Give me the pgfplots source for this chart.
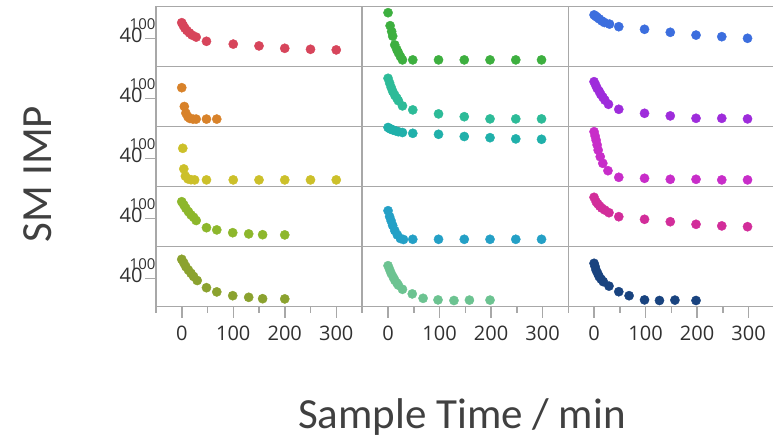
\documentclass[border=0pt]{standalone}
\usepackage{pgfplots}
\pgfplotsset{compat=1.18}
\usepackage{fontspec}
\setmainfont{Open Sans}
\newfontfamily\labfont{Carlito}
\definecolor{axgray}{HTML}{A8A8A8}
\definecolor{txt}{HTML}{303030}
\definecolor{lab}{HTML}{404040}
\definecolor{cA}{HTML}{D7455B}
\definecolor{cB}{HTML}{D8822A}
\definecolor{cC}{HTML}{CCC02A}
\definecolor{cD}{HTML}{8DB72C}
\definecolor{cE}{HTML}{8BA22F}
\definecolor{cF}{HTML}{3DAF3F}
\definecolor{cG}{HTML}{2DBB98}
\definecolor{cH}{HTML}{20B0AA}
\definecolor{cI}{HTML}{24A0C6}
\definecolor{cJ}{HTML}{6CC391}
\definecolor{cK}{HTML}{3C6EDE}
\definecolor{cL}{HTML}{9E2CDB}
\definecolor{cM}{HTML}{C82DC9}
\definecolor{cN}{HTML}{D22D9A}
\definecolor{cO}{HTML}{19437F}
\pgfplotsset{
  panel/.style={scale only axis, width=206pt, height=60pt, anchor=south west,
    xmin=-50, xmax=350, ymin=-100, ymax=200,
    axis line style={draw=axgray, line width=1.5pt},
    xtick=\empty, ytick=\empty, clip=true,
    tick align=outside, major tick length=11pt, minor tick length=6pt,
    every tick/.style={draw=axgray, line width=1.5pt},
    /pgf/number format/assume math mode=true,
    tick label style={font=\fontsize{20}{20}\selectfont, text=txt},
  },
  ylab/.style={ytick={40}, ytick pos=left, yticklabels={40},
    yticklabel style={yshift=3pt, xshift=1pt},
    extra y ticks={100}, extra y tick labels={100},
    extra y tick style={major tick length=0pt,
      yticklabel style={xshift=2pt, yshift=-1pt, font=\fontsize{15}{15}\selectfont}}},
  xlab/.style={xtick={0,100,200,300}, minor xtick={-50,50,150,250,350}, xtick pos=bottom,
    xticklabel style={yshift=-5pt}},
}
\newcommand{\panel}[5]{%
\begin{axis}[panel, at={(#1pt,#2pt)}, #4]
\addplot[only marks, mark=*, mark size=4.6pt, color=#3] coordinates {#5};
\end{axis}}
\begin{document}
\begin{tikzpicture}
\path[use as bounding box] (0pt,0pt) rectangle (773pt,442pt);
% column 1
\panel{156}{375.5}{cA}{ylab}{(0,119)(3,105)(6,92)(10,80)(15,68)(20,57)(28,47)(48,26)(100,12)(150,3)(200,-9)(250,-14)(300,-17)}
\panel{156}{315.5}{cB}{ylab}{(0,94)(5,0)(8,-33)(12,-52)(16,-60)(22,-63)(28,-63)(48,-63)(68,-63)}
\panel{156}{255.5}{cC}{ylab}{(2,91)(4,-12)(7,-48)(12,-62)(18,-66)(25,-67)(48,-67)(100,-67)(150,-67)(200,-67)(250,-67)(300,-67)}
\panel{156}{195.5}{cD}{ylab}{(0,124)(4,108)(8,91)(13,74)(18,58)(23,46)(28,30)(48,-6)(68,-17)(99,-31)(130,-37)(157,-41)(200,-42)}
\panel{156}{135.5}{cE}{ylab,xlab}{(0,136)(4,118)(8,99)(13,82)(18,66)(23,50)(30,30)(48,-6)(68,-27)(99,-46)(130,-54)(157,-61)(200,-62)}
% column 2
\panel{362.3}{375.5}{cF}{}{(0,169)(4,104)(7,75)(9,52)(13,8)(17,-15)(20,-31)(24,-50)(28,-67)(48,-67)(98,-67)(148,-67)(198,-67)(248,-67)(298,-67)}
\panel{362.3}{315.5}{cG}{}{(0,141)(3,118)(6,96)(9,76)(13,57)(17,42)(20,29)(28,3)(48,-17)(98,-37)(148,-51)(198,-62)(248,-62)(298,-62)}
\panel{362.3}{255.5}{cH}{}{(0,195)(3,190)(6,186)(10,182)(15,178)(20,174)(28,170)(48,166)(98,161)(148,150)(198,144)(248,138)(298,136)}
\panel{362.3}{195.5}{cI}{}{(0,79)(3,50)(6,28)(9,5)(13,-20)(18,-42)(24,-60)(30,-65)(48,-64)(98,-64)(148,-64)(198,-64)(248,-64)(298,-64)}
\panel{362.3}{135.5}{cJ}{xlab}{(0,104)(3,85)(6,66)(10,47)(13,32)(17,18)(20,7)(28,-14)(47,-37)(68,-59)(97,-67)(128,-70)(158,-68)(198,-68)}
% column 3
\panel{568.3}{375.5}{cK}{}{(0,158)(3,152)(6,146)(10,138)(15,128)(20,120)(30,112)(48,99)(98,86)(148,71)(198,57)(248,49)(298,41)}
\panel{568.3}{315.5}{cL}{}{(0,124)(3,108)(6,91)(10,76)(13,61)(17,47)(21,32)(28,11)(48,-14)(98,-34)(148,-47)(198,-59)(248,-59)(298,-62)}
\panel{568.3}{255.5}{cM}{}{(0,174)(2,153)(4,132)(6,108)(8,82)(12,49)(17,16)(27,-21)(48,-54)(98,-59)(148,-64)(198,-64)(248,-67)(298,-67)}
\panel{568.3}{195.5}{cN}{}{(0,146)(4,124)(7,114)(11,102)(15,92)(21,82)(29,69)(48,49)(98,36)(148,24)(198,11)(248,3)(298,-1)}
\panel{568.3}{135.5}{cO}{xlab}{(0,116)(2,100)(4,82)(7,66)(10,49)(14,36)(18,24)(29,2)(48,-26)(68,-46)(98,-67)(127,-70)(157,-68)(198,-70)}
% axis titles
\node[rotate=90, text=lab, font=\labfont\fontsize{43}{43}\selectfont] at (38pt,268pt) {SM IMP};
\node[text=lab, font=\labfont\fontsize{43}{43}\selectfont] at (462pt,25pt) {Sample Time / min};
\end{tikzpicture}
\end{document}
